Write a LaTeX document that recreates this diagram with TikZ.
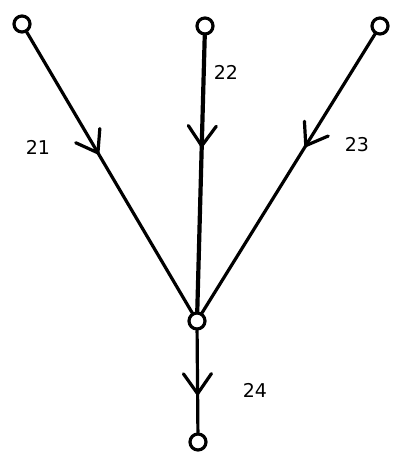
\documentclass[tikz,border=0pt]{standalone}
\usepackage{fontspec}
\setmainfont{DejaVu Sans}
\usetikzlibrary{decorations.markings}
\begin{document}
\begin{tikzpicture}[x=1pt,y=-1pt,
  vert/.style={circle,draw,line width=3.2pt,minimum size=16pt,inner sep=0pt,fill=white},
  edge/.style={line width=3.2pt,line cap=round},
  vmark/.style={postaction={decorate},decoration={markings,mark=at position #1 with {\draw[line width=3.2pt,line cap=round,line join=round] (-20,14) -- (0,0) -- (-20,-14);}}},
  lbl/.style={font=\fontsize{19}{21}\selectfont}]
\fill[white] (0,0) rectangle (394,453);
\useasboundingbox (0,0) rectangle (394,453);
\node[vert] (a) at (22,24) {};
\node[vert] (b) at (205,26) {};
\node[vert] (c) at (380,26) {};
\node[vert] (m) at (197,321) {};
\node[vert] (d) at (198,442) {};
\draw[edge,vmark=0.43] (a) -- (m);
\draw[edge,line width=4.2pt,vmark=0.40] (b) -- (m);
\draw[edge,vmark=0.40] (c) -- (m);
\draw[edge,vmark=0.62] (m) -- (d);
\node[lbl] (l21) at (38,147) {21};
\node[lbl] (l22) at (226,72) {22};
\node[lbl] (l23) at (357,145) {23};
\node[lbl] (l24) at (255,390) {24};
\end{tikzpicture}
\end{document}
